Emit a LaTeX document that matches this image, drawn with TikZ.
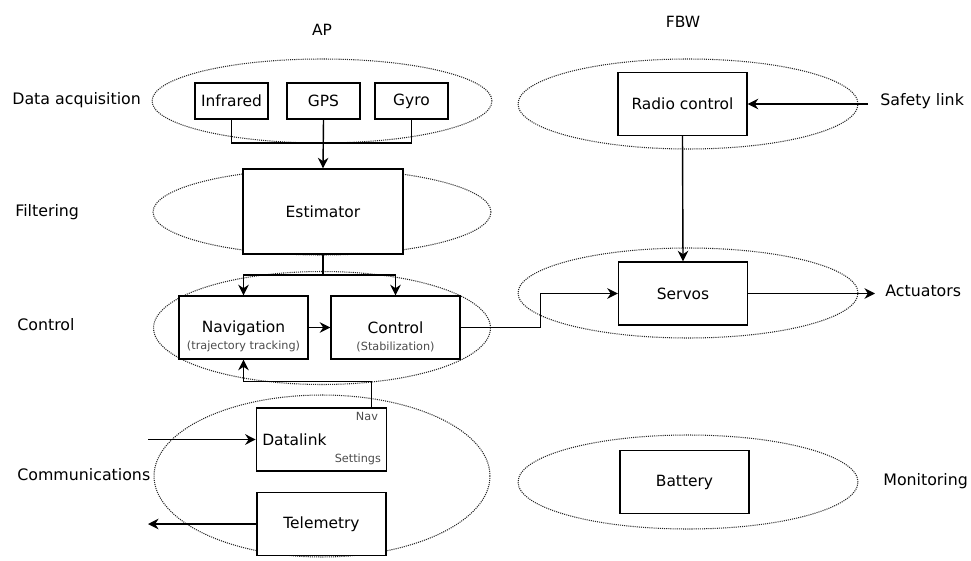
\documentclass[tikz,border=0pt]{standalone}
\usepackage{fontspec}
\setmainfont{DejaVu Sans}
\usetikzlibrary{arrows.meta,positioning,shapes.geometric,calc}

\begin{document}
\begin{tikzpicture}[
  x=0.02cm, y=-0.02cm,
  font=\fontsize{8.8}{10.5}\selectfont,
  layer/.style={ellipse, draw=black!85, dash pattern=on 0.6pt off 0.6pt, line width=0.6pt, inner sep=0pt},
  blk/.style={rectangle, draw, fill=white, line width=0.8pt,
              minimum width=2.58cm, minimum height=1.26cm, align=center},
  sensor/.style={rectangle, draw, fill=white, line width=0.8pt,
                 minimum width=1.46cm, minimum height=0.72cm},
  note/.style={font=\fontsize{6.4}{7.5}\selectfont, text=black!70, inner sep=0pt},
  lbl/.style={anchor=west, inner sep=0pt, font=\fontsize{9}{11}\selectfont},
  arr/.style={-{Stealth[length=6pt, width=6pt]}, line width=0.8pt}
]
\useasboundingbox (0,0) rectangle (971,561);

% Column titles
\node (ap)  at (322,30) {AP};
\node (fbw) at (683,22) {FBW};

% Layer ellipses
\node[layer, minimum width=6.8cm,  minimum height=1.68cm] (acqAP)   at (322,101) {};
\node[layer, minimum width=6.76cm, minimum height=1.72cm] (filtAP)  at (322,212) {};
\node[layer, minimum width=6.74cm, minimum height=2.26cm] (ctrlAP)  at (322,328) {};
\node[layer, minimum width=6.72cm, minimum height=3.24cm] (commAP)  at (322,476) {};
\node[layer, minimum width=6.8cm,  minimum height=1.8cm]  (acqFBW)  at (688,104) {};
\node[layer, minimum width=6.8cm,  minimum height=1.8cm]  (ctrlFBW) at (688,293) {};
\node[layer, minimum width=6.8cm,  minimum height=1.88cm] (monFBW)  at (688,482) {};

% Layer labels
\node[lbl] (lacq)  at (12,100)  {Data acquisition};
\node[lbl] (lfilt) at (15,212)  {Filtering};
\node[lbl] (lctrl) at (17,325)  {Control};
\node[lbl] (lcomm) at (17,475)  {Communications};
\node[lbl] (lsafe) at (880,101) {Safety link};
\node[lbl] (lact)  at (885,291) {Actuators};
\node[lbl] (lmon)  at (883,481) {Monitoring};

% AP blocks
\node[sensor] (infrared) at (231.5,101) {Infrared};
\node[sensor] (gps)      at (323.5,101) {GPS};
\node[sensor] (gyro)     at (411.5,101) {Gyro};

\node[blk, minimum width=3.2cm, minimum height=1.7cm] (estimator) at (323,211.5) {Estimator};

\node[blk] (navigation) at (243.5,327.5)
  {\rule{0pt}{0.6cm}Navigation\\[-1pt]{\fontsize{6.4}{7.5}\selectfont\color{black!70}(trajectory tracking)}};
\node[blk] (control)    at (395.5,327.5)
  {\rule{0pt}{0.6cm}Control\\[-1pt]{\fontsize{6.4}{7.5}\selectfont\color{black!70}(Stabilization)}};

\node[blk, text width=2.37cm, align=left] (datalink) at (321.5,439.5) {Datalink};
\node[note, anchor=north east] (dlnav) at ([shift={(-0.18cm,-0.1cm)}]datalink.north east) {Nav};
\node[note, anchor=south east] (dlset) at ([shift={(-0.12cm,0.14cm)}]datalink.south east) {Settings};

\node[blk] (telemetry) at (321.5,524) {Telemetry};

% FBW blocks
\node[blk] (radio)   at (682.5,104)   {Radio control};
\node[blk] (servos)  at (683,293.5)   {Servos};
\node[blk] (battery) at (684.5,482)   {Battery};

% Free ends
\coordinate (bus)      at (323,143);
\coordinate (split)    at (323,275);
\coordinate (uplink)   at (148,439.5);
\coordinate (downlink) at (148,524);
\coordinate (safety)   at (868,104);
\coordinate (act)      at (875,293.5);

% Connectors
\draw[line width=0.8pt] (infrared.south) |- (bus) -| (gyro.south);
\draw[arr] (gps.south) -- (estimator.north);
\draw[line width=0.8pt] (estimator.south) -- (split);
\draw[arr] (split) -| (navigation.north);
\draw[arr] (split) -| (control.north);
\draw[arr] (navigation) -- (control);
\draw[arr] (control.east) -- ++(80,0) |- (servos.west);
\draw[arr] ([xshift=-0.32cm]datalink.north east) -- ++(0,-26) -| (navigation.south);
\draw[arr] (uplink) -- (datalink.west);
\draw[arr] (telemetry.west) -- (downlink);
\draw[arr] (safety) -- (radio.east);
\draw[arr] (radio.south) -- (servos.north);
\draw[arr] (servos.east) -- (act);
\end{tikzpicture}
\end{document}
